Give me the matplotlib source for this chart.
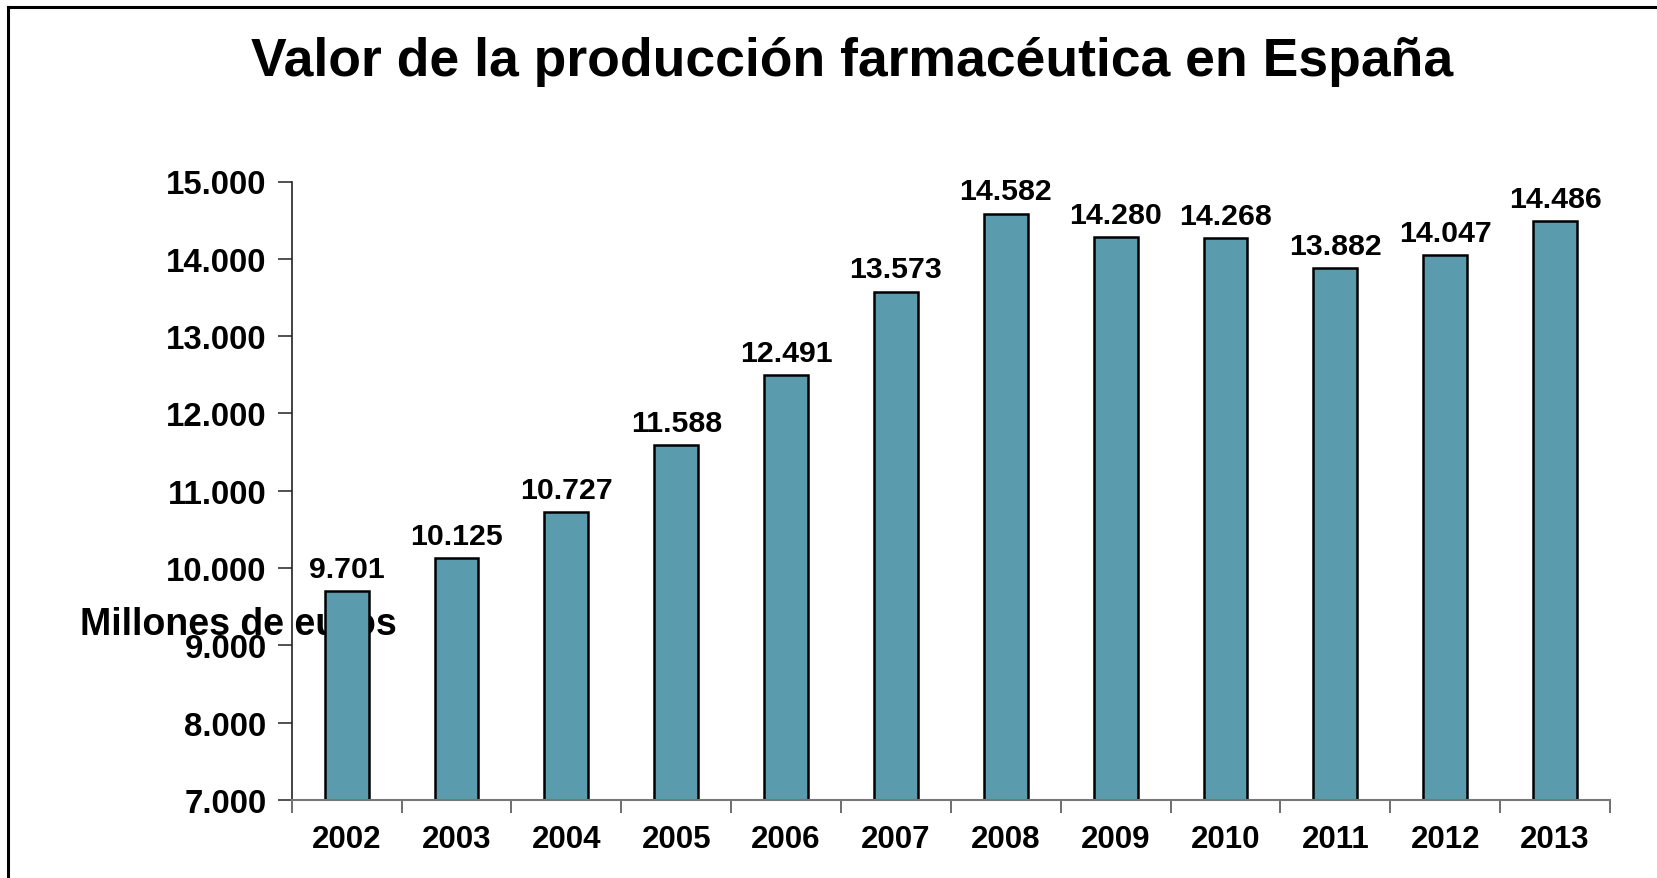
import matplotlib
matplotlib.use("Agg")
import matplotlib.pyplot as plt
from matplotlib.lines import Line2D
from matplotlib.ticker import FuncFormatter, FixedLocator

years = ["2002", "2003", "2004", "2005", "2006", "2007",
         "2008", "2009", "2010", "2011", "2012", "2013"]
values = [9701, 10125, 10727, 11588, 12491, 13573,
          14582, 14280, 14268, 13882, 14047, 14486]
yticks = [7000, 8000, 9000, 10000, 11000, 12000, 13000, 14000, 15000]

title = "Valor de la producción farmacéutica en España"
ylabel = "Millones de euros"

def fmt(v):
    return f"{int(v):,}".replace(",", ".")

plt.rcParams['font.family'] = ['Liberation Sans', 'DejaVu Sans']
plt.rcParams['font.weight'] = 'bold'

W, H = 1657, 879
fig = plt.figure(figsize=(W / 100, H / 100), dpi=100)
ax = fig.add_axes([291.7 / W, 1 - 801 / H, (1610 - 291.7) / W, (801 - 182.5) / H])
ax.set_facecolor('none')

x = list(range(len(years)))
bars = ax.bar(x, values, width=0.40, color='#5a9cad', edgecolor='black',
              linewidth=1.8, zorder=2)
for xi, v in zip(x, values):
    ax.annotate(fmt(v), (xi, v), xytext=(0, 6), textcoords='offset points',
                ha='center', va='bottom', fontsize=21.8, fontweight='bold',
                zorder=3)

ax.set_xlim(-0.5, len(years) - 0.5)
ax.set_ylim(7000, 15000)
ax.yaxis.set_major_locator(FixedLocator(yticks))
ax.yaxis.set_major_formatter(FuncFormatter(lambda v, p: fmt(v)))
ax.set_xticks(x)
ax.set_xticklabels(years)
ax.set_xticks([i - 0.5 for i in range(len(years) + 1)], minor=True)
ax.tick_params(axis='x', which='major', length=0, pad=17, labelsize=22.5)
ax.tick_params(axis='x', which='minor', length=9, width=1.2, color='#555555', direction='out')
ax.tick_params(axis='y', length=10, width=1.2, color='#333333', direction='out', pad=8, labelsize=23.8)
for lbl in ax.get_xticklabels() + ax.get_yticklabels():
    lbl.set_fontweight('bold')

for s in ['top', 'right']:
    ax.spines[s].set_visible(False)
ax.spines['left'].set_color('#222222')
ax.spines['left'].set_linewidth(1.2)
ax.spines['bottom'].set_color('#777777')
ax.spines['bottom'].set_linewidth(1.5)

ax.text((82.7 + 394) / 2 / W, 1 - 625 / H, ylabel, transform=fig.transFigure,
        ha='center', va='center', fontsize=27, fontweight='bold',
        zorder=0.5, clip_on=False)

fig.text(852 / W, 1 - 62 / H, title, ha='center', va='center',
         fontsize=38.5, fontweight='bold')

# frame lines (top and left) of the original slide
fig.add_artist(Line2D([8.3 / W, 8.3 / W], [0, 1 - 7.5 / H], transform=fig.transFigure,
                      color='black', linewidth=2.2))
fig.add_artist(Line2D([8.3 / W, 1], [1 - 7.5 / H, 1 - 7.5 / H], transform=fig.transFigure,
                      color='black', linewidth=2.2))

fig.savefig("out.png", dpi=100, facecolor='white')
